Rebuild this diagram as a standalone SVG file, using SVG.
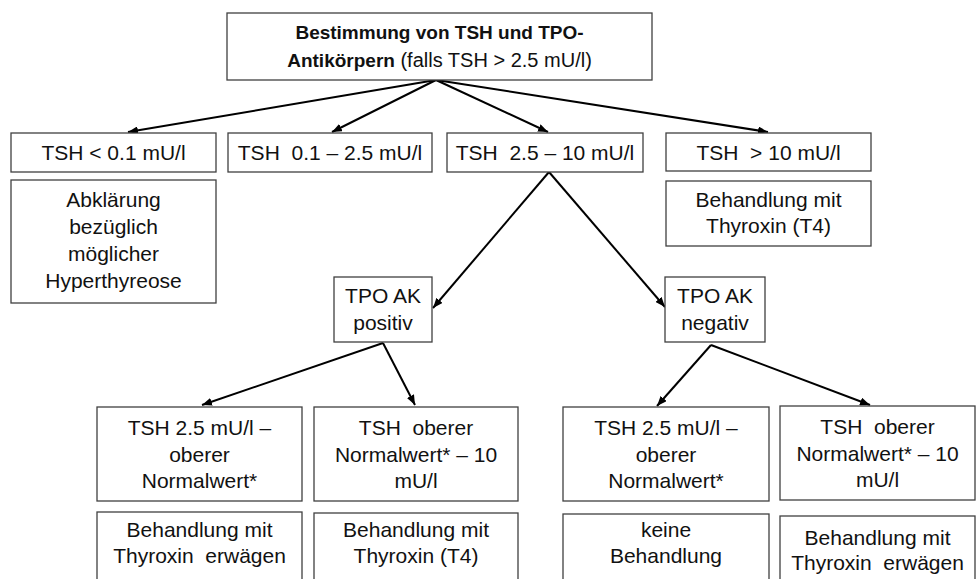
<svg xmlns="http://www.w3.org/2000/svg" width="977" height="579" viewBox="0 0 977 579">
<defs>
<style>
.box{fill:#fff;stroke:#404040;stroke-width:1.3}
.t{font-family:"Liberation Sans",Arial,sans-serif;font-size:21px;fill:#111;text-anchor:middle}
.b{font-weight:bold;font-size:19px}
.c{stroke:#000;stroke-width:2;fill:none;marker-end:url(#ah)}
</style>
<marker id="ah" viewBox="0 0 10 8" refX="10" refY="4" markerWidth="5" markerHeight="4" orient="auto" markerUnits="strokeWidth">
<path d="M0,0 L10,4 L0,8 z" fill="#000"/>
</marker>
</defs>
<rect width="977" height="579" fill="#fff"/>
<g id="connectors">
<line class="c" x1="436" y1="80" x2="128" y2="132"/>
<line class="c" x1="436" y1="80" x2="332" y2="132"/>
<line class="c" x1="436" y1="80" x2="548" y2="132"/>
<line class="c" x1="436" y1="80" x2="768" y2="132"/>
<line class="c" x1="549" y1="172" x2="433" y2="308"/>
<line class="c" x1="549" y1="172" x2="665" y2="307"/>
<line class="c" x1="383" y1="343" x2="202" y2="405"/>
<line class="c" x1="383" y1="343" x2="415" y2="405"/>
<line class="c" x1="711" y1="345" x2="657" y2="406"/>
<line class="c" x1="711" y1="345" x2="870" y2="405"/>
</g>
<g id="root">
<rect class="box" x="227" y="13" width="425" height="67"/>
<text class="t b" x="439.5" y="39">Bestimmung von TSH und TPO-</text>
<text class="t" x="439.5" y="67"><tspan font-weight="bold" font-size="19">Antikörpern</tspan><tspan font-size="20"> (falls TSH &gt; 2.5 mU/l)</tspan></text>
</g>
<g id="tsh-low">
<rect class="box" x="11" y="133" width="205" height="39"/>
<text class="t" x="113.5" y="160">TSH &lt; 0.1 mU/l</text>
</g>
<g id="hyper">
<rect class="box" x="11" y="180" width="205" height="123"/>
<text class="t" x="113.5" y="207">Abklärung</text>
<text class="t" x="113.5" y="234">bezüglich</text>
<text class="t" x="113.5" y="261">möglicher</text>
<text class="t" x="113.5" y="288">Hyperthyreose</text>
</g>
<g id="tsh-norm">
<rect class="box" x="228" y="133" width="204" height="39"/>
<text class="t" x="330" y="160" xml:space="preserve">TSH  0.1 – 2.5 mU/l</text>
</g>
<g id="tsh-mid">
<rect class="box" x="447" y="133" width="196" height="39"/>
<text class="t" x="545" y="160" xml:space="preserve">TSH  2.5 – 10 mU/l</text>
</g>
<g id="tsh-high">
<rect class="box" x="666" y="133" width="205" height="38"/>
<text class="t" x="768.5" y="160" xml:space="preserve">TSH  &gt; 10 mU/l</text>
</g>
<g id="treat-high">
<rect class="box" x="666" y="181" width="205" height="65"/>
<text class="t" x="768.5" y="207">Behandlung mit</text>
<text class="t" x="768.5" y="233">Thyroxin (T4)</text>
</g>
<g id="tpo-pos">
<rect class="box" x="334" y="277" width="98" height="65"/>
<text class="t" x="383" y="303">TPO AK</text>
<text class="t" x="383" y="330">positiv</text>
</g>
<g id="tpo-neg">
<rect class="box" x="665" y="277" width="100" height="65"/>
<text class="t" x="715" y="303">TPO AK</text>
<text class="t" x="715" y="330">negativ</text>
</g>
<g id="pos-low">
<rect class="box" x="97" y="407" width="205" height="94"/>
<text class="t" x="199.5" y="435">TSH 2.5 mU/l –</text>
<text class="t" x="199.5" y="462">oberer</text>
<text class="t" x="199.5" y="488">Normalwert*</text>
</g>
<g id="pos-low-treat">
<rect class="box" x="97" y="512" width="205" height="80"/>
<text class="t" x="199.5" y="537">Behandlung mit</text>
<text class="t" x="199.5" y="563" xml:space="preserve">Thyroxin  erwägen</text>
</g>
<g id="pos-high">
<rect class="box" x="314" y="407" width="204" height="94"/>
<text class="t" x="416" y="435" xml:space="preserve">TSH  oberer</text>
<text class="t" x="416" y="462">Normalwert* – 10</text>
<text class="t" x="416" y="488">mU/l</text>
</g>
<g id="pos-high-treat">
<rect class="box" x="314" y="513" width="204" height="80"/>
<text class="t" x="416" y="537">Behandlung mit</text>
<text class="t" x="416" y="563">Thyroxin (T4)</text>
</g>
<g id="neg-low">
<rect class="box" x="563" y="407" width="206" height="94"/>
<text class="t" x="666" y="435">TSH 2.5 mU/l –</text>
<text class="t" x="666" y="462">oberer</text>
<text class="t" x="666" y="488">Normalwert*</text>
</g>
<g id="neg-low-treat">
<rect class="box" x="563" y="514" width="206" height="80"/>
<text class="t" x="666" y="537">keine</text>
<text class="t" x="666" y="563">Behandlung</text>
</g>
<g id="neg-high">
<rect class="box" x="780" y="406" width="195" height="94"/>
<text class="t" x="877.5" y="434" xml:space="preserve">TSH  oberer</text>
<text class="t" x="877.5" y="461">Normalwert* – 10</text>
<text class="t" x="877.5" y="487">mU/l</text>
</g>
<g id="neg-high-treat">
<rect class="box" x="780" y="516" width="195" height="80"/>
<text class="t" x="877.5" y="545">Behandlung mit</text>
<text class="t" x="877.5" y="570" xml:space="preserve">Thyroxin  erwägen</text>
</g>
</svg>
